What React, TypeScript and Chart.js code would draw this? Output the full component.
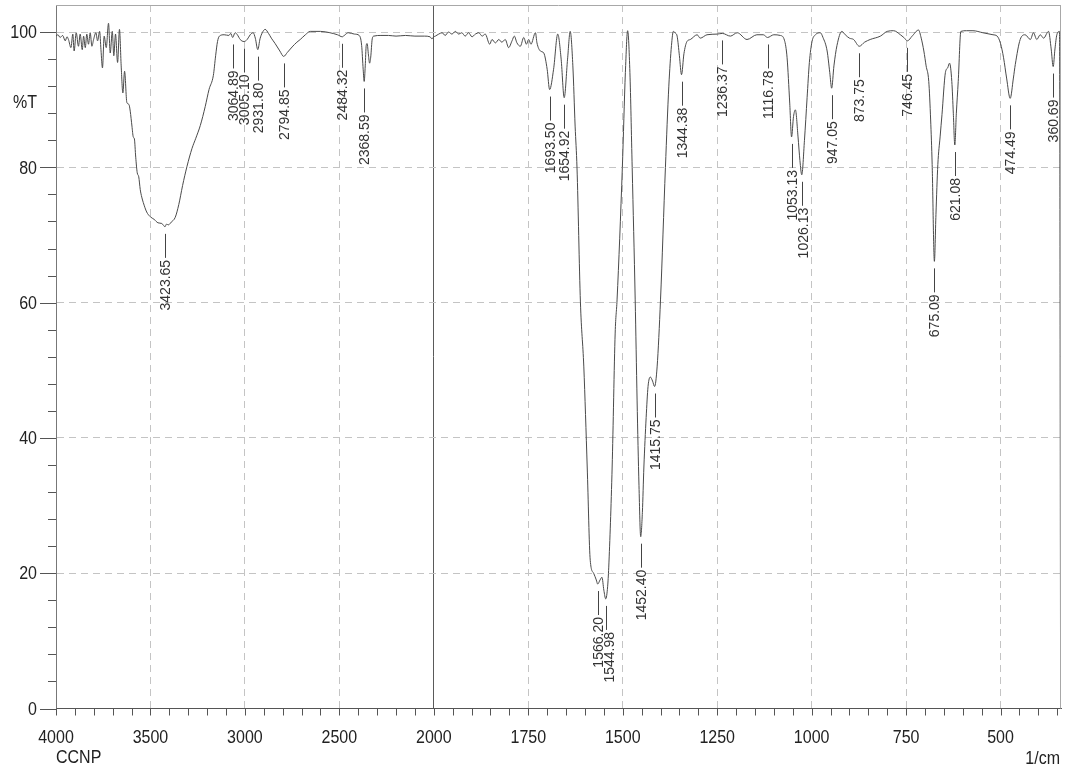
import React, { useEffect, useRef } from 'react';
import { Chart, registerables } from 'chart.js';

Chart.register(...registerables);

// ---------- data (wavenumber in 1/cm, transmittance in %T) ----------
const wavenumbers: number[] = [
  4000, 3990, 3978, 3965, 3951, 3942, 3934, 3921, 3911, 3904, 3893, 3881, 3872, 3861, 3854, 3845, 3837, 3828,
  3819, 3810, 3801, 3789, 3780, 3769, 3762, 3754, 3745, 3734, 3722, 3713, 3702, 3694, 3685, 3674, 3664, 3655,
  3646, 3637, 3625, 3614, 3607, 3598, 3591, 3585, 3578, 3570, 3562, 3554, 3546, 3538, 3520, 3501, 3480, 3460,
  3440, 3430, 3423.65, 3415, 3405, 3390, 3369, 3350, 3330, 3307, 3280, 3260, 3236, 3210, 3190, 3167, 3155, 3145,
  3135, 3110, 3085, 3075, 3064.89, 3052, 3040, 3025, 3005.1, 2988, 2972, 2956, 2945, 2931.8, 2920, 2908, 2893,
  2875, 2860, 2840, 2815, 2794.85, 2775, 2750, 2725, 2707, 2680, 2654, 2600, 2550, 2510, 2484.32, 2470, 2453,
  2420, 2395, 2382, 2374, 2368.59, 2363, 2358, 2353, 2346, 2340, 2334, 2326, 2318, 2280, 2240, 2200, 2150, 2100,
  2050, 2020, 2010, 2000,
  1996, 1987, 1978, 1970, 1961, 1952, 1943, 1934, 1926, 1917, 1908, 1899, 1890, 1881, 1872, 1864, 1852, 1846,
  1837, 1828, 1820, 1811, 1802, 1793, 1787, 1780, 1771, 1762, 1755, 1749, 1743, 1731, 1727, 1718, 1709, 1700,
  1693.5, 1683, 1672, 1663, 1654.92, 1646, 1639, 1632, 1626, 1621, 1612, 1603, 1594, 1586, 1577, 1570, 1566.2,
  1560, 1555, 1550, 1544.98, 1540, 1537, 1528, 1520, 1515, 1501, 1493, 1487, 1481, 1475, 1467, 1462, 1457,
  1452.4, 1448, 1444, 1438, 1433, 1427, 1421, 1415.75, 1409, 1400, 1387, 1378, 1371, 1366, 1360, 1356, 1350,
  1344.38, 1338, 1330, 1321, 1303, 1295, 1277, 1250, 1236.37, 1215, 1197, 1171, 1145, 1128, 1116.78, 1100,
  1083, 1072, 1065, 1058, 1053.13, 1048, 1043, 1036, 1031, 1026.13, 1019, 1012, 1006, 999, 990, 977, 970, 959,
  952, 947.05, 941, 933, 920, 911, 900, 889, 873.75, 860, 845, 818, 800, 783, 765, 756, 746.45, 734, 717, 710,
  703, 697, 690, 685, 681, 675.09, 671, 666, 660, 655, 646, 640, 635, 629, 625, 621.08, 617, 612, 605, 590, 573,
  547, 520, 509, 500, 492, 484, 474.49, 466, 461, 448, 435, 421, 413, 404, 395, 386, 373, 366, 360.69, 356, 351,
  344, 341,
];

const transmittance: number[] = [
  99.4, 99.6, 99.2, 99.5, 98.7, 99.3, 98.9, 97.7, 99.7, 97.2, 99.9, 97.9, 99.7, 97.4, 99.4, 97.7, 99.7, 98.2,
  99.9, 97.9, 98.9, 99.9, 98.7, 100.1, 97.4, 94.7, 99.4, 97.7, 101.3, 96.9, 100.1, 96.5, 99.7, 95.5, 100.4, 95.0,
  91.0, 94.2, 89.6, 89.3, 88.3, 86.1, 84.5, 84.2, 81.5, 79.2, 78.6, 76.7, 75.6, 74.8, 73.4, 72.7, 72.3, 71.8,
  71.7, 71.4, 71.2, 71.6, 71.5, 71.9, 72.6, 74.5, 77.3, 80.1, 82.8, 84.3, 86.2, 89.0, 91.5, 93.6, 96.5, 98.6,
  99.4, 99.6, 99.5, 99.8, 99.2, 99.9, 99.6, 98.9, 98.6, 98.9, 99.6, 99.9, 99.1, 97.4, 99.0, 99.9, 100.4,
  99.8, 99.1, 98.3, 97.2, 96.4, 97.0, 97.8, 98.5, 98.9, 99.6, 100.1, 100.1, 99.9, 99.6, 99.3, 99.6, 99.9,
  99.7, 99.5, 98.0, 94.5, 92.7, 95.0, 98.0, 98.3, 96.6, 95.4, 96.3, 99.0, 99.4, 99.5, 99.5, 99.4, 99.5, 99.4,
  99.4, 99.3, 99.0, 99.3,
  99.4, 99.7, 99.9, 99.5, 100.0, 99.7, 100.1, 99.7, 99.9, 99.4, 99.9, 99.3, 99.7, 99.9, 99.4, 99.7, 98.2, 98.9,
  98.4, 98.9, 98.5, 98.9, 97.7, 98.7, 99.4, 98.4, 97.9, 99.2, 98.2, 98.9, 98.2, 99.9, 98.4, 97.2, 96.9, 94.5,
  91.5, 94.5, 99.7, 96.0, 90.3, 96.0, 100.1, 95.0, 86.1, 79.9, 60.1, 50.5, 35.7, 21.9, 20.0, 19.0, 18.4,
  19.0, 19.4, 17.5, 16.2, 18.0, 20.9, 35.7, 55.5, 60.4, 80.0, 94.0, 100.2, 94.0, 80.0, 60.4, 45.6, 33.0,
  25.4, 29.0, 35.7, 43.0, 47.6, 49.0, 48.4, 47.6, 50.5, 60.4, 80.0, 92.0, 98.0, 100.1, 99.8, 99.4, 96.5,
  93.7, 96.8, 98.6, 98.9, 99.6, 99.1, 99.6, 99.7, 99.8, 99.4, 99.9, 98.9, 99.6, 99.6, 99.2, 99.6,
  99.5, 98.8, 96.2, 89.5, 84.5, 87.5, 88.5, 84.5, 81.0, 78.9, 84.0, 90.3, 95.5, 98.6, 99.6, 99.9, 99.2, 97.2,
  94.0, 91.7, 95.0, 98.0, 100.1, 99.6, 99.1, 98.9, 97.9, 98.5, 98.9, 99.4, 100.1, 100.2, 99.6, 99.2, 98.7, 99.4, 100.3, 99.1,
  97.2, 95.0, 92.7, 87.0, 80.4, 66.1, 73.0, 80.4, 84.5, 87.8, 94.0, 94.7, 95.4, 92.7, 88.0, 83.3, 88.0, 92.7, 100.1, 100.2, 100.2,
  99.9, 99.6, 99.4, 98.3, 96.2, 93.2, 90.2, 93.2, 95.2, 98.9, 99.6, 98.9, 99.9, 98.9, 99.6, 99.1, 100.1, 97.5, 94.9, 97.5, 99.6,
  100.1, 0,
];

const peakLabels: string[] = [
  '3423.65', '3064.89', '3005.10', '2931.80', '2794.85', '2484.32', '2368.59',
  '1693.50', '1654.92', '1566.20', '1544.98', '1452.40', '1415.75', '1344.38', '1236.37',
  '1116.78', '1053.13', '1026.13', '947.05', '873.75', '746.45', '675.09', '621.08',
  '474.49', '360.69',
];

const xTickLabels: number[] = [4000, 3500, 3000, 2500, 2000, 1750, 1500, 1250, 1000, 750, 500];
const yTickLabels: number[] = [0, 20, 40, 60, 80, 100];
const yAxisTitle = '%T';
const xAxisUnit = '1/cm';
const sampleName = 'CCNP';

// ---------- split wavenumber axis (4000-2000 compressed 2x, 2000-340 normal) ----------
const X_START = 4000;
const X_BREAK = 2000;
const X_END = 340;
const Y_MAX = 104;

const toAxis = (w: number) => (w >= X_BREAK ? (X_START - w) / 2 : (X_START - X_BREAK) / 2 + (X_BREAK - w));

const xMinorWavenumbers: number[] = (() => {
  const out: number[] = [];
  for (let w = X_START; w >= X_BREAK; w -= 100) out.push(w);
  for (let w = X_BREAK - 50; w >= X_END; w -= 50) out.push(w);
  return out;
})();
const yMinorVals: number[] = (() => {
  const out: number[] = [];
  for (let v = 0; v <= 100; v += 4) out.push(v);
  return out;
})();

const AXIS_FONT = '16px "Liberation Sans", Arial, sans-serif';
const PEAK_FONT = '14px "Liberation Sans", Arial, sans-serif';
const TEXT_STRETCH = 1.2;

export default function App() {
  const ref = useRef<HTMLCanvasElement | null>(null);

  useEffect(() => {
    const canvas = ref.current;
    if (!canvas) return;

    const stretchedText = (ctx: CanvasRenderingContext2D, txt: string, x: number, y: number, align: CanvasTextAlign) => {
      ctx.save();
      ctx.translate(x, y);
      ctx.scale(1, TEXT_STRETCH);
      ctx.textAlign = align;
      ctx.textBaseline = 'middle';
      ctx.fillText(txt, 0, 0);
      ctx.restore();
    };

    const decor = {
      id: 'irDecor',
      afterDraw(chart: any) {
        const { ctx, chartArea: a, scales } = chart;
        const xs = scales.x;
        const ys = scales.y;
        ctx.save();
        // frame (top & right)
        ctx.strokeStyle = '#a8a8a8';
        ctx.lineWidth = 1;
        ctx.beginPath();
        ctx.moveTo(a.left, Math.round(a.top) + 0.5);
        ctx.lineTo(a.right, Math.round(a.top) + 0.5);
        ctx.moveTo(Math.round(a.right) - 0.5, a.top);
        ctx.lineTo(Math.round(a.right) - 0.5, a.bottom);
        ctx.stroke();

        // tick marks
        ctx.strokeStyle = '#555';
        ctx.beginPath();
        xMinorWavenumbers.forEach((w) => {
          const px = Math.round(xs.getPixelForValue(toAxis(w))) + 0.5;
          ctx.moveTo(px, a.bottom);
          ctx.lineTo(px, a.bottom + 7);
        });
        yMinorVals.forEach((v) => {
          const py = Math.round(ys.getPixelForValue(v)) + 0.5;
          const len = yTickLabels.includes(v) ? 16 : 8;
          ctx.moveTo(a.left - len, py);
          ctx.lineTo(a.left, py);
        });
        ctx.stroke();

        // tick labels
        ctx.fillStyle = '#222';
        ctx.font = AXIS_FONT;
        xTickLabels.forEach((w) => {
          stretchedText(ctx, String(w), xs.getPixelForValue(toAxis(w)), a.bottom + 29, 'center');
        });
        yTickLabels.forEach((v) => {
          stretchedText(ctx, String(v), a.left - 19, ys.getPixelForValue(v) + 1, 'right');
        });
        stretchedText(ctx, yAxisTitle, 13, 102.5, 'left');
        stretchedText(ctx, sampleName, a.left, 758, 'left');
        stretchedText(ctx, xAxisUnit, a.right - 1, 759, 'right');

        // peak labels
        ctx.strokeStyle = '#444';
        ctx.fillStyle = '#333';
        ctx.font = PEAK_FONT;
        let prev: { cx: number; top: number; bottom: number } | null = null;
        peakLabels.forEach((lbl) => {
          const w = parseFloat(lbl);
          let best = 0;
          for (let i = 1; i < wavenumbers.length; i++) {
            if (Math.abs(wavenumbers[i] - w) < Math.abs(wavenumbers[best] - w)) best = i;
          }
          const t = transmittance[best];
          const px = Math.round(xs.getPixelForValue(toAxis(w))) + 0.5;
          const py = ys.getPixelForValue(t);
          const y0 = py + 7;
          const y1 = py + 31;
          const textTop = y1 + 2;
          const textLen = ctx.measureText(lbl).width;
          let cx = px + 1;
          if (prev && cx - prev.cx < 11 && textTop < prev.bottom && textTop + textLen > prev.top) {
            cx = prev.cx + 11;
          }
          ctx.beginPath();
          ctx.moveTo(px, y0);
          ctx.lineTo(px, y1);
          ctx.stroke();
          ctx.save();
          ctx.translate(cx, textTop);
          ctx.rotate(-Math.PI / 2);
          ctx.textAlign = 'right';
          ctx.textBaseline = 'middle';
          ctx.fillText(lbl, 0, 0);
          ctx.restore();
          prev = { cx, top: textTop, bottom: textTop + textLen };
        });
        ctx.restore();
      },
    };

    const chart = new Chart(canvas, {
      type: 'line',
      data: {
        datasets: [
          {
            data: wavenumbers.map((w, i) => ({ x: toAxis(w), y: transmittance[i] })),
            borderColor: '#4a4a4a',
            borderWidth: 1,
            pointRadius: 0,
            fill: false,
            cubicInterpolationMode: 'monotone',
          },
        ],
      },
      options: {
        responsive: false,
        animation: false,
        devicePixelRatio: 1,
        layout: { padding: { top: 5, right: 8, left: 0, bottom: 0 } },
        plugins: { legend: { display: false }, tooltip: { enabled: false } },
        scales: {
          x: {
            type: 'linear',
            min: 0,
            max: toAxis(X_END),
            afterFit(s: any) {
              s.height = 60.5;
              s.paddingLeft = 0;
              s.paddingRight = 0;
            },
            afterBuildTicks(s: any) {
              s.ticks = xTickLabels.map((w) => ({ value: toAxis(w) }));
            },
            ticks: { display: false, autoSkip: false, maxRotation: 0 },
            grid: {
              drawTicks: false,
              lineWidth: 1,
              color: (c: any) => {
                const u = c.tick ? c.tick.value : -1;
                if (u === toAxis(X_BREAK)) return '#5a5a5a';
                if (u > 0) return '#c4c4c4';
                return 'rgba(0,0,0,0)';
              },
            },
            border: {
              color: '#555',
              width: 1,
              dash: (c: any) => (c.tick && c.tick.value === toAxis(X_BREAK) ? [] : [7, 5]),
            },
          },
          y: {
            min: 0,
            max: Y_MAX,
            afterFit(s: any) {
              s.width = 56;
              s.paddingTop = 0;
              s.paddingBottom = 0;
            },
            afterBuildTicks(s: any) {
              s.ticks = yTickLabels.map((v) => ({ value: v }));
            },
            ticks: { display: false, autoSkip: false },
            grid: {
              drawTicks: false,
              lineWidth: 1,
              color: (c: any) => {
                const v = c.tick ? c.tick.value : -1;
                return v > 0 ? '#c4c4c4' : 'rgba(0,0,0,0)';
              },
            },
            border: { color: '#777', width: 1, dash: [7, 5] },
          },
        },
      },
      plugins: [decor],
    } as any);

    return () => chart.destroy();
  }, []);

  return (
    <div style={{ position: 'absolute', left: 0, top: 0, width: 1069, height: 769, background: '#fff' }}>
      <canvas ref={ref} width={1069} height={769} style={{ display: 'block' }} />
    </div>
  );
}
